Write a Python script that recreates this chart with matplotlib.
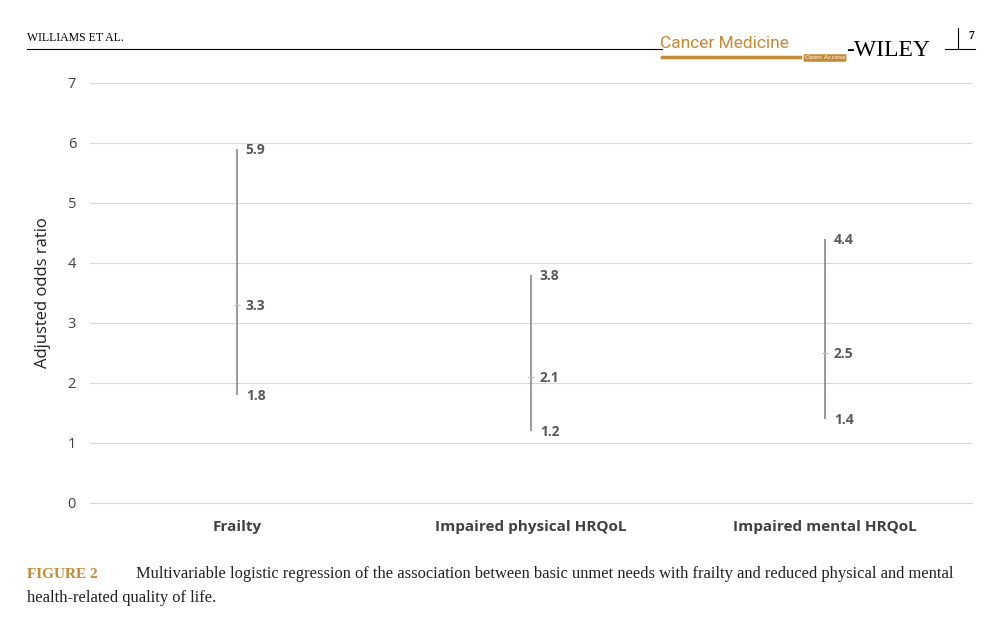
import matplotlib
matplotlib.use("Agg")
import matplotlib.pyplot as plt

categories = ["Frailty", "Impaired physical HRQoL", "Impaired mental HRQoL"]
upper = [5.9, 3.8, 4.4]
point = [3.3, 2.1, 2.5]
lower = [1.8, 1.2, 1.4]
yticks = [0, 1, 2, 3, 4, 5, 6, 7]

W, H = 990, 631
fig = plt.figure(figsize=(W/100, H/100), dpi=100)
def fx(px): return px / W
def fy(py): return 1 - py / H

ax = fig.add_axes([fx(90), fy(503), fx(972) - fx(90), fy(83) - fy(503)])
x = list(range(len(categories)))
ax.vlines(x, lower, upper, color="#7f7f7f", lw=1.1)
ax.plot(x, point, ls="none", marker="_", color="#bfbfbf", ms=4)
for xi, u, p, l in zip(x, upper, point, lower):
    for v in (u, p, l):
        ax.text(xi + 0.03, v - 0.02, f"{v:.1f}", fontsize=10, fontweight="bold",
                color="#595959", va="center", ha="left", family="Open Sans")
ax.set_xlim(-0.5, 2.5)
ax.set_ylim(0, 7)
ax.set_yticks(yticks)
ax.set_yticklabels([str(t) for t in yticks], family="Open Sans", fontsize=10.5, color="#404040")
ax.set_xticks(x)
ax.set_xticklabels(categories, family="Open Sans", fontsize=11, fontweight="bold", color="#404040")
ax.tick_params(axis="both", length=0, pad=10)
ax.tick_params(axis="x", pad=12)
ax.grid(axis="y", color="#d9d9d9", lw=0.8)
ax.set_axisbelow(True)
for s in ["top", "right", "left"]:
    ax.spines[s].set_visible(False)
ax.spines["bottom"].set_color("#d9d9d9")
ax.set_ylabel("Adjusted odds ratio", family="Open Sans", fontsize=12, color="#222222", labelpad=12)

# header
fig.text(fx(27), fy(38), "WILLIAMS ET AL.", fontsize=8.5, family="Liberation Serif", va="center")
fig.add_artist(plt.Line2D([fx(27), fx(662)], [fy(49), fy(49)], color="black", lw=0.8))
fig.text(fx(660), fy(44), "Cancer Medicine", fontsize=12.5, color="#c8892f",
         family="Roboto", va="center")
fig.add_artist(plt.Line2D([fx(662), fx(800)], [fy(57), fy(57)], color="#c8892f", lw=2.5))
fig.text(fx(825), fy(58), "Open Access", fontsize=4.5, color="white", ha="center", va="center",
         bbox=dict(boxstyle="round,pad=0.2", fc="#c8892f", ec="none"))
fig.text(fx(846), fy(50), "-WILEY", fontsize=17, family="Liberation Serif", va="center")
fig.add_artist(plt.Line2D([fx(945), fx(975)], [fy(49), fy(49)], color="black", lw=0.8))
fig.add_artist(plt.Line2D([fx(958), fx(958)], [fy(28), fy(49)], color="black", lw=0.8))
fig.text(fx(971), fy(36), "7", fontsize=8.5, family="Liberation Serif", fontweight="bold",
         va="center", ha="center")

# caption
fig.text(fx(27), fy(574), "FIGURE 2", fontsize=11, color="#c8892f", family="Liberation Serif",
         fontweight="bold", va="center")
fig.text(fx(136), fy(574), "Multivariable logistic regression of the association between basic unmet needs with frailty and reduced physical and mental",
         fontsize=11.9, family="Liberation Serif", va="center", color="#222222")
fig.text(fx(27), fy(598), "health-related quality of life.", fontsize=11.9, family="Liberation Serif",
         va="center", color="#222222")

fig.savefig("out.png", dpi=100, facecolor="white")
